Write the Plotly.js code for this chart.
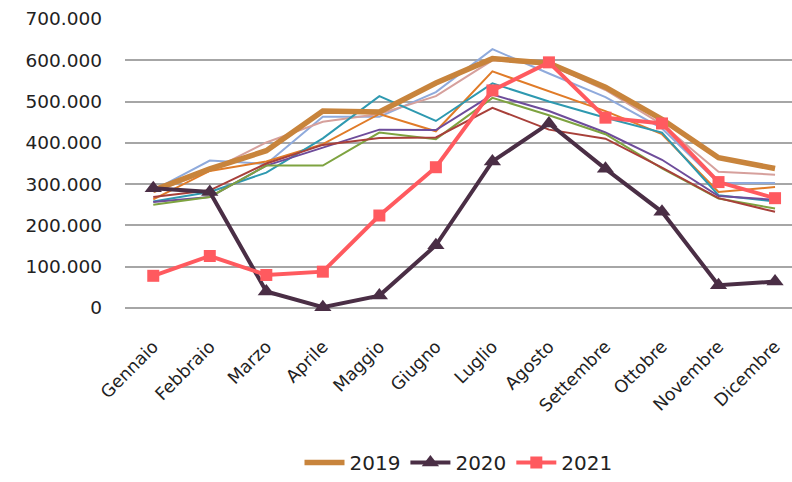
<!DOCTYPE html>
<html>
<head>
<meta charset="utf-8">
<script src="https://cdn.plot.ly/plotly-3.0.1.min.js"></script>
<style>html,body{margin:0;padding:0;background:#fff;}#chart{width:792px;height:482px;}</style>
</head>
<body>
<div id="chart"></div>
<script>
const months = ["Gennaio","Febbraio","Marzo","Aprile","Maggio","Giugno","Luglio","Agosto","Settembre","Ottobre","Novembre","Dicembre"];

// Earlier years (thin lines, not in legend)
const seriesLightBlue = [285000,357000,349000,463000,463000,523000,627000,568000,511000,435000,303000,303000];
const seriesPink      = [281000,332000,401000,451000,470000,513000,600000,590000,528000,445000,330000,323000];
const seriesOrange    = [263000,332000,355000,397000,470000,428000,573000,525000,477000,421000,281000,293000];
const seriesTeal      = [258000,281000,328000,411000,513000,453000,544000,500000,461000,425000,273000,258000];
const seriesPurple    = [257000,269000,345000,389000,432000,431000,517000,477000,425000,359000,271000,262000];
const seriesGreen     = [250000,269000,345000,345000,425000,409000,509000,467000,421000,338000,265000,241000];
const seriesDarkRed   = [269000,285000,350000,395000,412000,413000,485000,432000,410000,340000,266000,233000];

// Highlighted years
const values2019 = [285000,337000,381000,477000,475000,545000,604000,593000,535000,457000,364000,338000];
const values2020 = [290000,281000,40000,2000,30000,152000,355000,447000,337000,233000,55000,64000];
const values2021 = [78000,126000,80000,88000,224000,341000,527000,595000,461000,447000,305000,266000];

const thin = [
  [seriesLightBlue, "#8FAADC"],
  [seriesPink, "#D6A09C"],
  [seriesOrange, "#E07B28"],
  [seriesTeal, "#2E99B0"],
  [seriesPurple, "#6E4C9A"],
  [seriesGreen, "#7EA340"],
  [seriesDarkRed, "#A8403A"]
];

const traces = thin.map(([vals, col]) => ({
  x: months, y: vals, type: "scatter", mode: "lines",
  line: {color: col, width: 2}, showlegend: false, hoverinfo: "skip", cliponaxis: false
}));

traces.push({
  x: months, y: values2019, name: "2019", type: "scatter", mode: "lines",
  line: {color: "#C8843C", width: 5.5}, cliponaxis: false
});
traces.push({
  x: months, y: values2020, name: "2020", type: "scatter", mode: "lines+markers",
  line: {color: "#4A2E45", width: 4},
  marker: {symbol: "triangle-up", size: 15, color: "#4A2E45"}, cliponaxis: false
});
traces.push({
  x: months, y: values2021, name: "2021", type: "scatter", mode: "lines+markers",
  line: {color: "#FF5A5F", width: 4},
  marker: {symbol: "square", size: 12, color: "#FF5A5F"}, cliponaxis: false
});

const layout = {
  width: 792, height: 482,
  margin: {l: 125, r: 0, t: 19, b: 172},
  paper_bgcolor: "#ffffff", plot_bgcolor: "#ffffff",
  separators: ",.",
  font: {family: "DejaVu Sans, sans-serif", color: "#222222", size: 18},
  xaxis: {
    type: "category", range: [-0.5, 11.3],
    showgrid: false, zeroline: false, showline: false,
    tickangle: -45, tickfont: {size: 17.5, color: "#222222"}, ticks: "",
    ticklabelstandoff: 24
  },
  yaxis: {
    range: [0, 700000], dtick: 100000, tickformat: ",d",
    showgrid: true, gridcolor: "#A6A6A6", gridwidth: 2,
    zeroline: true, zerolinecolor: "#A6A6A6", zerolinewidth: 2,
    showline: false, ticks: "", ticklabelstandoff: 22,
    tickfont: {size: 18.5, color: "#222222"}
  },
  showlegend: true,
  legend: {
    orientation: "h", x: 0.5, xanchor: "center", y: -0.535, yanchor: "middle",
    font: {size: 20, color: "#222222"}, traceorder: "normal",
    itemwidth: 40
  }
};

Plotly.newPlot("chart", traces, layout, {displayModeBar: false, staticPlot: true});
</script>
</body>
</html>
